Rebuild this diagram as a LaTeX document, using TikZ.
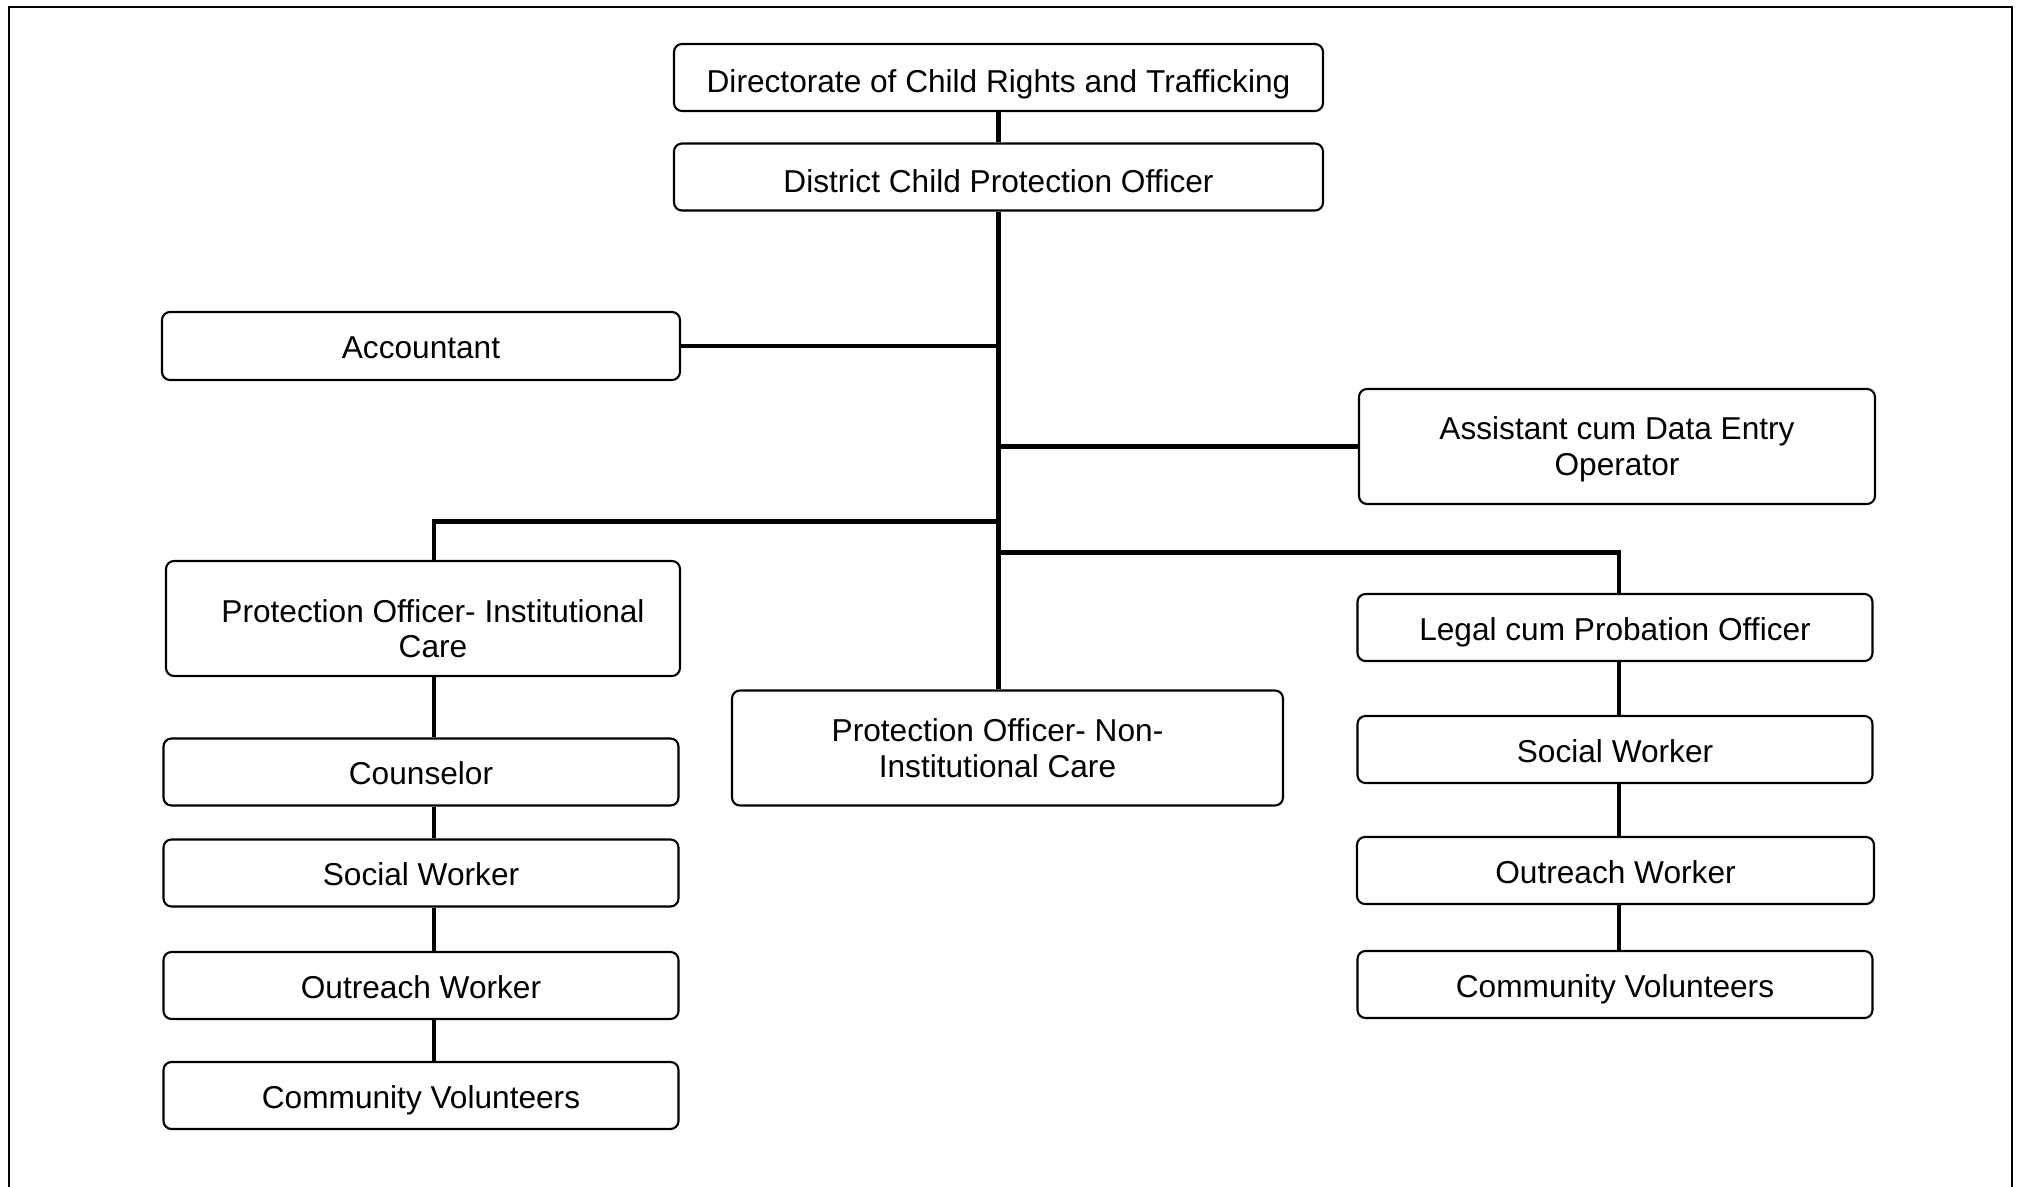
\documentclass[tikz,border=0pt]{standalone}
\usepackage{fontspec}
\setmainfont{Liberation Sans}
\usetikzlibrary{calc}

\tikzset{
	post/.style={draw, line width=0.6pt, rounded corners=0.8mm, align=center, inner sep=0pt,
		font=\fontsize{9}{10.2}\selectfont, minimum width=5.15cm, minimum height=0.67cm},
	one/.style={text height=0.75em, text depth=0.03em},
	low/.style={text height=0.9em, text depth=0.03em},
	tall/.style={minimum height=1.15cm},
	link/.style={line width=1.4pt}
}

\begin{document}
\begin{tikzpicture}
			%%%%% START %%%%%
			\useasboundingbox (0,0) rectangle (20.22,-11.87);
			\draw[line width=0.8pt] (0.09,-12.5) |- (20.12,-0.07) -- (20.12,-12.5);
			
			\node[post, low, minimum width=6.49cm] (dir) at (9.985,-0.775) {Directorate of Child Rights and Trafficking};
			\node[post, low, minimum width=6.49cm] (dcpo) at (9.985,-1.77) {District Child Protection Officer};
			
			\node[post, one, minimum width=5.18cm, minimum height=0.68cm] (acc) at (4.21,-3.46) {Accountant};
			\node[post, tall, minimum width=5.16cm] (adeo) at (16.17,-4.465) {\rule{0pt}{8pt}Assistant cum Data Entry\\Operator};
			
			\node[post, tall, minimum width=5.14cm] (poic) at (4.23,-6.185) {\rule{0pt}{12.3pt}\hspace*{2mm}Protection Officer- Institutional\\\hspace*{2mm}Care};
			\node[post, tall, minimum width=5.51cm] (ponic) at (10.075,-7.48) {Protection Officer- Non-\hspace*{2mm}\\Institutional Care\hspace*{2mm}};
			\node[post, one] (legal) at (16.15,-6.275) {Legal cum Probation Officer};
			
			\node[post, one] (couns) at (4.21,-7.72) {Counselor};
			\node[post, one] (swl) at (4.21,-8.73) {Social Worker};
			\node[post, one] (owl) at (4.21,-9.855) {Outreach Worker};
			\node[post, one] (cvl) at (4.21,-10.955) {Community Volunteers};
			
			\node[post, one] (swr) at (16.15,-7.495) {Social Worker};
			\node[post, one, minimum width=5.17cm] (owr) at (16.155,-8.705) {Outreach Worker};
			\node[post, one] (cvr) at (16.15,-9.845) {Community Volunteers};
			
			\draw[link] (dir) -- (dcpo);
			\draw[link] (dcpo.south) -- (dcpo.south |- ponic.north);
			\draw[link] (acc.east) -- (acc.east -| dcpo.south);
			\draw[link] (adeo.west) -- (adeo.west -| dcpo.south);
			
			\coordinate (jl) at ($(dcpo.south)+(0,-3.10)$);
			\coordinate (jr) at ($(dcpo.south)+(0,-3.41)$);
			\coordinate (cl) at (4.34,0);
			\coordinate (cr) at (16.19,0);
			\draw[link] (jl) -| (cl |- poic.north);
			\draw[link] (jr) -| (cr |- legal.north);
			
			\draw[link] (cl |- poic.south) -- (cl |- couns.north);
			\draw[link] (cl |- couns.south) -- (cl |- swl.north);
			\draw[link] (cl |- swl.south) -- (cl |- owl.north);
			\draw[link] (cl |- owl.south) -- (cl |- cvl.north);
			
			\draw[link] (cr |- legal.south) -- (cr |- swr.north);
			\draw[link] (cr |- swr.south) -- (cr |- owr.north);
			\draw[link] (cr |- owr.south) -- (cr |- cvr.north);
			%%%%% END %%%%%
\end{tikzpicture}
\end{document}
